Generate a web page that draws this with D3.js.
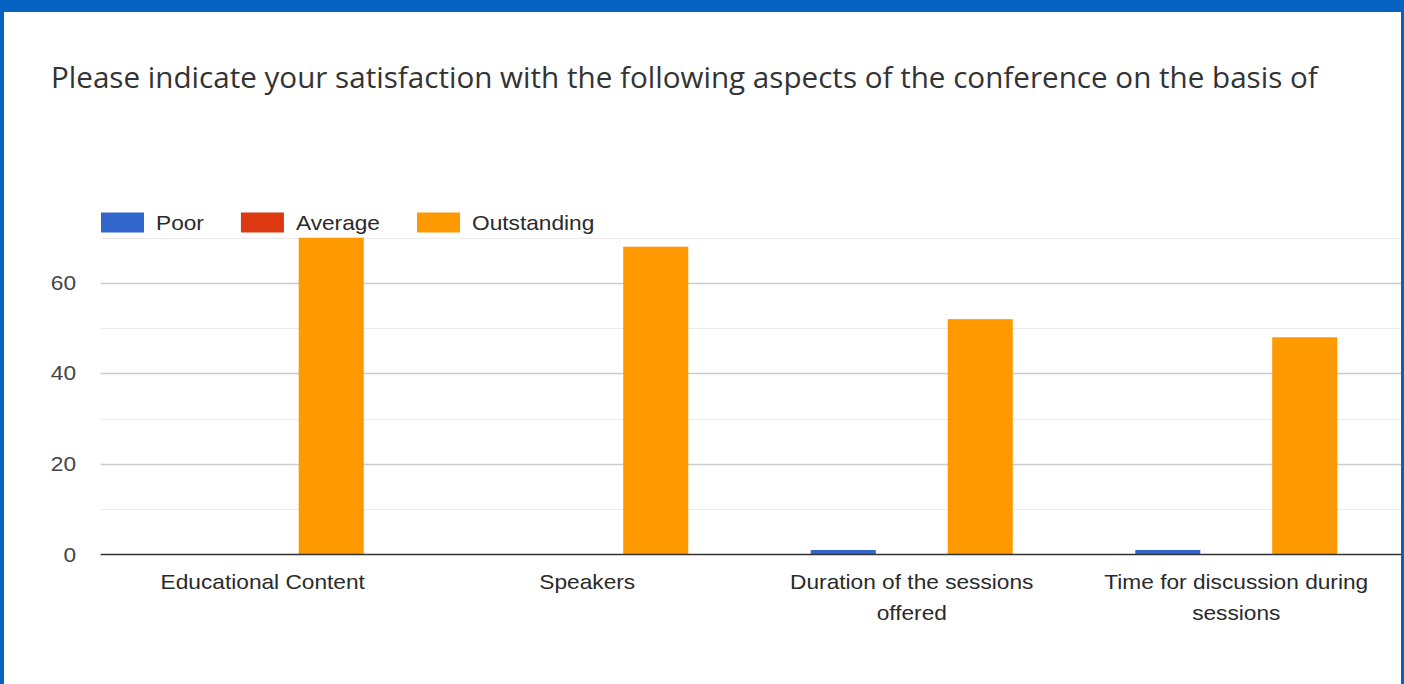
<!DOCTYPE html>
<html>
<head>
<meta charset="utf-8">
<script src="https://cdn.jsdelivr.net/npm/d3@7"></script>
<style>
  html, body { margin: 0; padding: 0; background: #0562c0; }
  svg { display: block; }
</style>
</head>
<body>
<svg id="chart" width="1404" height="684"></svg>
<script>
const title = "Please indicate your satisfaction with the following aspects of the conference on the basis of";
const categories = [
  ["Educational Content"],
  ["Speakers"],
  ["Duration of the sessions", "offered"],
  ["Time for discussion during", "sessions"]
];
const seriesNames = ["Poor", "Average", "Outstanding"];
const seriesColors = ["#3366cc", "#dc3912", "#ff9900"];
const poor = [0, 0, 1, 1];
const average = [0, 0, 0, 0];
const outstanding = [70, 68, 52, 48];
const yTicks = [0, 20, 40, 60];
const yMinorTicks = [10, 30, 50, 70];

const seriesValues = [poor, average, outstanding];
const W = 1404, H = 684;
const SX = 1.135; // horizontal stretch of the label text
const FONT = "'Liberation Sans', Arial, sans-serif";
const svg = d3.select("#chart");

svg.append("rect").attr("x", 4).attr("y", 12).attr("width", 1397).attr("height", H - 12).attr("fill", "#ffffff");

const plot = { left: 100.5, right: 1398.5, top: 237.7, bottom: 554.5 };

const catKeys = categories.map(c => c.join(" "));
const x0 = d3.scaleBand().domain(catKeys).range([plot.left, plot.right]).padding(0);
const y = d3.scaleLinear().domain([0, 70]).range([plot.bottom, plot.top]);

function label(sel, x, yy, txt, anchor, fill) {
  return sel.append("text")
    .attr("transform", `translate(${x},${yy}) scale(${SX},1)`)
    .attr("text-anchor", anchor)
    .attr("font-family", FONT)
    .attr("font-size", 20)
    .attr("fill", fill)
    .text(txt);
}

// title
const t = svg.append("text")
  .attr("x", 51).attr("y", 88)
  .attr("font-family", "'Open Sans', Roboto, sans-serif")
  .attr("font-size", 28)
  .attr("fill", "#333333")
  .text(title);
const tw = t.node().getComputedTextLength();
t.attr("font-size", 28 * 1267 / tw);

// grid
const g = svg.append("g");
g.selectAll("line.minor").data(yMinorTicks).join("line")
  .attr("x1", plot.left).attr("x2", 1401)
  .attr("y1", d => Math.round(y(d)) + 0.5).attr("y2", d => Math.round(y(d)) + 0.5)
  .attr("stroke", "#ebebeb").attr("stroke-width", 1);
g.selectAll("line.major").data(yTicks.filter(d => d !== 0)).join("line")
  .attr("x1", plot.left).attr("x2", 1401)
  .attr("y1", d => Math.round(y(d)) + 0.5).attr("y2", d => Math.round(y(d)) + 0.5)
  .attr("stroke", "#cccccc").attr("stroke-width", 1.5);

// y labels
yTicks.forEach(d => {
  label(g, 76, y(d) + 7, d, "end", "#444444");
});

// bars
const groupHalf = 101;
const bars = svg.append("g");
catKeys.forEach((cat, ci) => {
  const cx = x0(cat) + x0.bandwidth() / 2;
  const x1 = d3.scaleBand().domain(seriesNames).range([cx - groupHalf, cx + groupHalf]).paddingInner(0.05);
  seriesNames.forEach((s, si) => {
    const v = seriesValues[si][ci];
    if (v > 0) {
      bars.append("rect")
        .attr("x", x1(s)).attr("width", x1.bandwidth())
        .attr("y", y(v)).attr("height", y(0) - y(v))
        .attr("fill", seriesColors[si]);
    }
  });
});

// baseline
svg.append("line")
  .attr("x1", plot.left).attr("x2", 1401)
  .attr("y1", y(0)).attr("y2", y(0))
  .attr("stroke", "#333333").attr("stroke-width", 1.5);

// category labels
const cl = svg.append("g");
categories.forEach((lines, ci) => {
  const cx = x0(catKeys[ci]) + x0.bandwidth() / 2;
  lines.forEach((ln, li) => {
    label(cl, cx, 589 + li * 31, ln, "middle", "#2a2a2a");
  });
});

// legend
const lg = svg.append("g");
let lx = 101;
seriesNames.forEach((s, si) => {
  lg.append("rect").attr("x", lx).attr("y", 212.5).attr("width", 43).attr("height", 20).attr("fill", seriesColors[si]);
  const tt = label(lg, lx + 55, 229.5, s, "start", "#2a2a2a");
  lx = lx + 55 + tt.node().getComputedTextLength() * SX + 37;
});
</script>
</body>
</html>
